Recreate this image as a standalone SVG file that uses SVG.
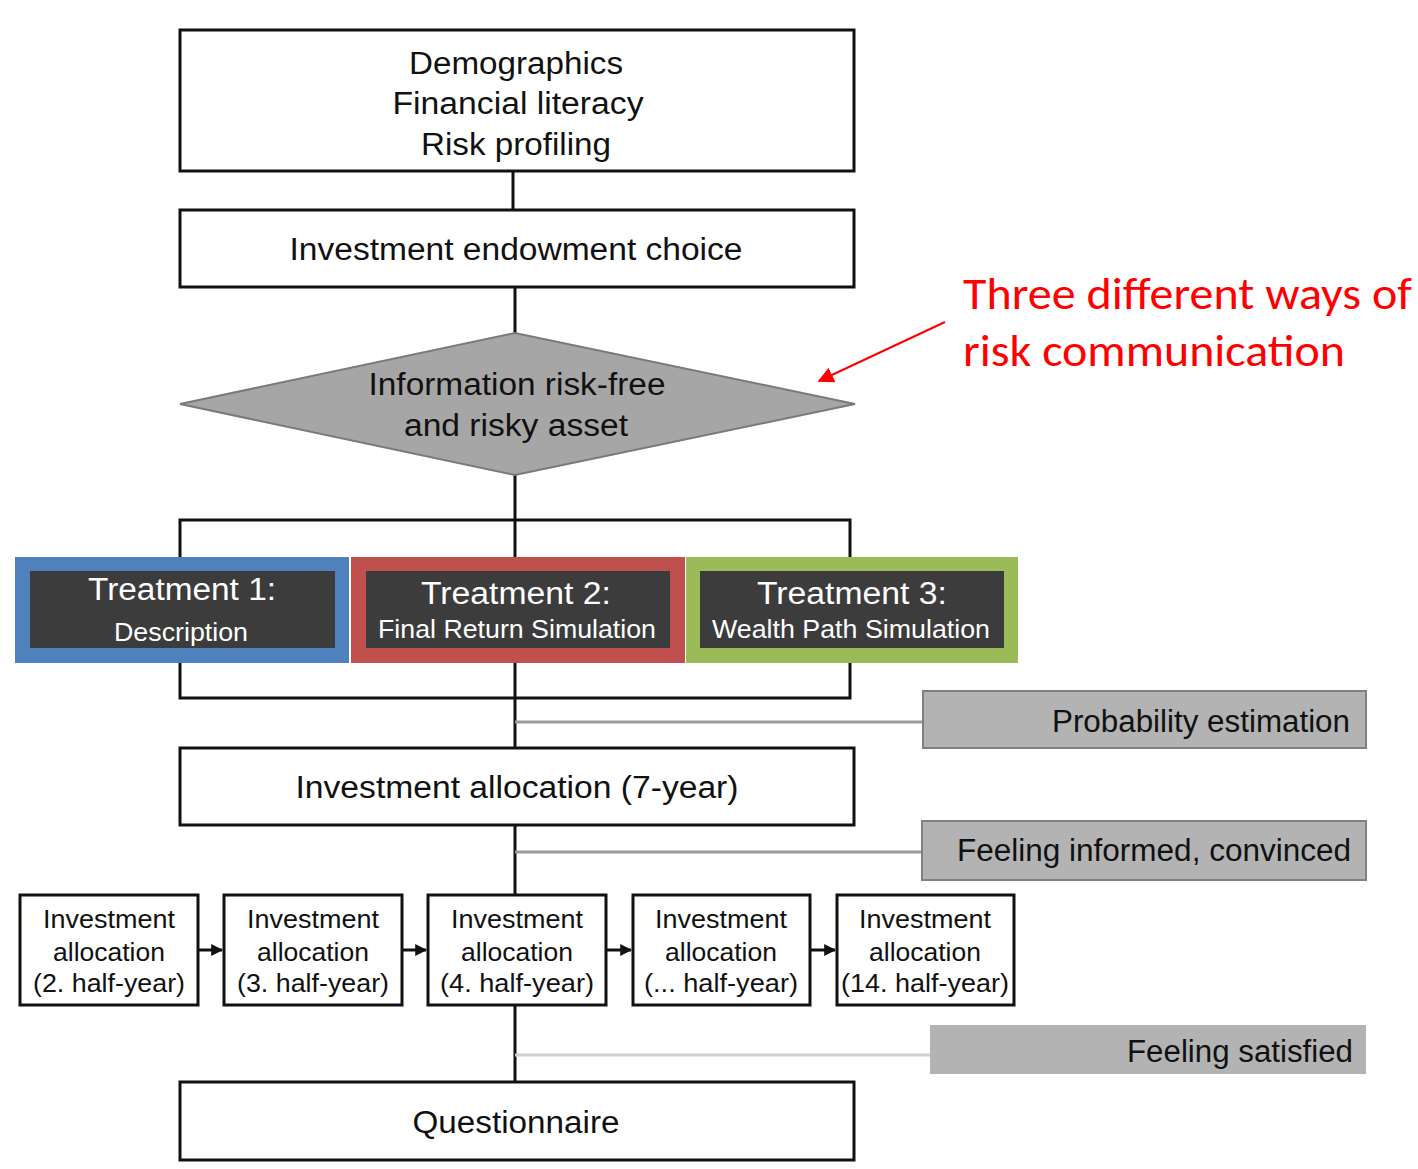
<svg xmlns="http://www.w3.org/2000/svg" width="1418" height="1169" viewBox="0 0 1418 1169">
<defs>
<style>
.box{fill:#fff;stroke:#111;stroke-width:3}
.t{font-family:"Liberation Sans",Arial,sans-serif;fill:#111;text-anchor:middle}
.e{text-anchor:end}
.big{font-size:31px}
.sm{font-size:25px}
.line{stroke:#111;stroke-width:3;fill:none}
.gline{stroke:#9a9a9a;stroke-width:3;fill:none}
.gbox{fill:#b3b3b3;stroke:#808080;stroke-width:2}
.tw{font-family:"Liberation Sans",Arial,sans-serif;fill:#fff;text-anchor:middle}
.ann{font-family:"Carlito","Open Sans","Liberation Sans",sans-serif;fill:#ff0000;font-size:46px}
</style>
<marker id="ah" viewBox="0 0 10 10" refX="9" refY="5" markerWidth="4" markerHeight="4" orient="auto"><path d="M0,0 L10,5 L0,10 z" fill="#111"/></marker>
<marker id="rah2" viewBox="0 0 10 10" refX="9" refY="5" markerWidth="16" markerHeight="16" markerUnits="userSpaceOnUse" orient="auto"><path d="M0,0 L10,5 L0,10 z" fill="#ff0000"/></marker>
</defs>
<rect width="1418" height="1169" fill="#fff"/>
<g id="connectors">
<line class="line" x1="513" y1="171" x2="513" y2="210"/>
<line class="line" x1="515" y1="287" x2="515" y2="333"/>
<line class="line" x1="515" y1="475" x2="515" y2="557"/>
<rect x="180" y="520" width="670" height="178" fill="none" stroke="#111" stroke-width="3"/>
<line class="line" x1="515" y1="662" x2="515" y2="748"/>
<line class="line" x1="515" y1="825" x2="515" y2="895"/>
<line class="line" x1="515" y1="1005" x2="515" y2="1082"/>
<line class="gline" x1="515" y1="722" x2="923" y2="722"/>
<line class="gline" x1="515" y1="852" x2="922" y2="852"/>
<line stroke="#d0d0d0" stroke-width="3" x1="515" y1="1055" x2="930" y2="1055"/>
<line class="line" x1="198" y1="950" x2="222" y2="950" marker-end="url(#ah)"/>
<line class="line" x1="402" y1="950" x2="426" y2="950" marker-end="url(#ah)"/>
<line class="line" x1="606" y1="950" x2="631" y2="950" marker-end="url(#ah)"/>
<line class="line" x1="810" y1="950" x2="835" y2="950" marker-end="url(#ah)"/>
<line stroke="#ff0000" stroke-width="2" x1="945" y1="322" x2="819" y2="381" marker-end="url(#rah2)"/>
</g>
<g id="demographics">
<rect class="box" x="180" y="30" width="674" height="141"/>
<text class="t big" x="516" y="74" textLength="214" lengthAdjust="spacingAndGlyphs">Demographics</text>
<text class="t big" x="518" y="114" textLength="251" lengthAdjust="spacingAndGlyphs">Financial literacy</text>
<text class="t big" x="516" y="155" textLength="190" lengthAdjust="spacingAndGlyphs">Risk profiling</text>
</g>
<g id="endowment">
<rect class="box" x="180" y="210" width="674" height="77"/>
<text class="t big" x="516" y="260" textLength="453" lengthAdjust="spacingAndGlyphs">Investment endowment choice</text>
</g>
<g id="information">
<polygon points="180,404 515,333 855,404 515,475" fill="#a6a6a6" stroke="#7a7a7a" stroke-width="2"/>
<text class="t big" x="517" y="395" textLength="297" lengthAdjust="spacingAndGlyphs">Information risk-free</text>
<text class="t big" x="516" y="436" textLength="224" lengthAdjust="spacingAndGlyphs">and risky asset</text>
</g>
<g id="treatment1">
<rect x="15" y="557" width="334" height="106" fill="#4f81bd"/>
<rect x="30" y="571" width="305" height="77" fill="#3c3c3c"/>
<text class="tw" x="182" y="600" font-size="31" textLength="188" lengthAdjust="spacingAndGlyphs">Treatment 1:</text>
<text class="tw" x="181" y="641" font-size="25" textLength="134" lengthAdjust="spacingAndGlyphs">Description</text>
</g>
<g id="treatment2">
<rect x="351" y="557" width="334" height="106" fill="#c0504d"/>
<rect x="366" y="571" width="304" height="77" fill="#3c3c3c"/>
<text class="tw" x="516" y="604" font-size="31" textLength="190" lengthAdjust="spacingAndGlyphs">Treatment 2:</text>
<text class="tw" x="517" y="638" font-size="25" textLength="278" lengthAdjust="spacingAndGlyphs">Final Return Simulation</text>
</g>
<g id="treatment3">
<rect x="686" y="557" width="332" height="106" fill="#9bbb59"/>
<rect x="700" y="571" width="304" height="77" fill="#3c3c3c"/>
<text class="tw" x="852" y="604" font-size="31" textLength="190" lengthAdjust="spacingAndGlyphs">Treatment 3:</text>
<text class="tw" x="851" y="638" font-size="25" textLength="278" lengthAdjust="spacingAndGlyphs">Wealth Path Simulation</text>
</g>
<g id="probability">
<rect class="gbox" x="923" y="691" width="443" height="57"/>
<text class="t big e" x="1350" y="732" textLength="298" lengthAdjust="spacingAndGlyphs">Probability estimation</text>
</g>
<g id="allocation7">
<rect class="box" x="180" y="748" width="674" height="77"/>
<text class="t big" x="517" y="798" textLength="443" lengthAdjust="spacingAndGlyphs">Investment allocation (7-year)</text>
</g>
<g id="informed">
<rect class="gbox" x="922" y="821" width="444" height="59"/>
<text class="t big e" x="1351" y="861" textLength="394" lengthAdjust="spacingAndGlyphs">Feeling informed, convinced</text>
</g>
<g id="alloc2">
<rect class="box" x="20" y="895" width="178" height="110"/>
<text class="t sm" x="109" y="928" textLength="132" lengthAdjust="spacingAndGlyphs">Investment</text>
<text class="t sm" x="109" y="961" textLength="112" lengthAdjust="spacingAndGlyphs">allocation</text>
<text class="t sm" x="109" y="992" textLength="152" lengthAdjust="spacingAndGlyphs">(2. half-year)</text>
</g>
<g id="alloc3">
<rect class="box" x="224" y="895" width="178" height="110"/>
<text class="t sm" x="313" y="928" textLength="132" lengthAdjust="spacingAndGlyphs">Investment</text>
<text class="t sm" x="313" y="961" textLength="112" lengthAdjust="spacingAndGlyphs">allocation</text>
<text class="t sm" x="313" y="992" textLength="152" lengthAdjust="spacingAndGlyphs">(3. half-year)</text>
</g>
<g id="alloc4">
<rect class="box" x="428" y="895" width="178" height="110"/>
<text class="t sm" x="517" y="928" textLength="132" lengthAdjust="spacingAndGlyphs">Investment</text>
<text class="t sm" x="517" y="961" textLength="112" lengthAdjust="spacingAndGlyphs">allocation</text>
<text class="t sm" x="517" y="992" textLength="154" lengthAdjust="spacingAndGlyphs">(4. half-year)</text>
</g>
<g id="allocN">
<rect class="box" x="633" y="895" width="177" height="110"/>
<text class="t sm" x="721" y="928" textLength="132" lengthAdjust="spacingAndGlyphs">Investment</text>
<text class="t sm" x="721" y="961" textLength="112" lengthAdjust="spacingAndGlyphs">allocation</text>
<text class="t sm" x="721" y="992" textLength="154" lengthAdjust="spacingAndGlyphs">(... half-year)</text>
</g>
<g id="alloc14">
<rect class="box" x="837" y="895" width="177" height="110"/>
<text class="t sm" x="925" y="928" textLength="132" lengthAdjust="spacingAndGlyphs">Investment</text>
<text class="t sm" x="925" y="961" textLength="112" lengthAdjust="spacingAndGlyphs">allocation</text>
<text class="t sm" x="925" y="992" textLength="168" lengthAdjust="spacingAndGlyphs">(14. half-year)</text>
</g>
<g id="satisfied">
<rect x="930" y="1025" width="436" height="49" fill="#b3b3b3"/>
<text class="t big e" x="1353" y="1062" textLength="226" lengthAdjust="spacingAndGlyphs">Feeling satisfied</text>
</g>
<g id="questionnaire">
<rect class="box" x="180" y="1082" width="674" height="78"/>
<text class="t big" x="516" y="1133" textLength="207" lengthAdjust="spacingAndGlyphs">Questionnaire</text>
</g>
<g id="annotation">
<text class="ann" x="963" y="309" textLength="449" lengthAdjust="spacingAndGlyphs">Three different ways of</text>
<text class="ann" x="963" y="366" textLength="382" lengthAdjust="spacingAndGlyphs">risk communication</text>
</g>
</svg>
